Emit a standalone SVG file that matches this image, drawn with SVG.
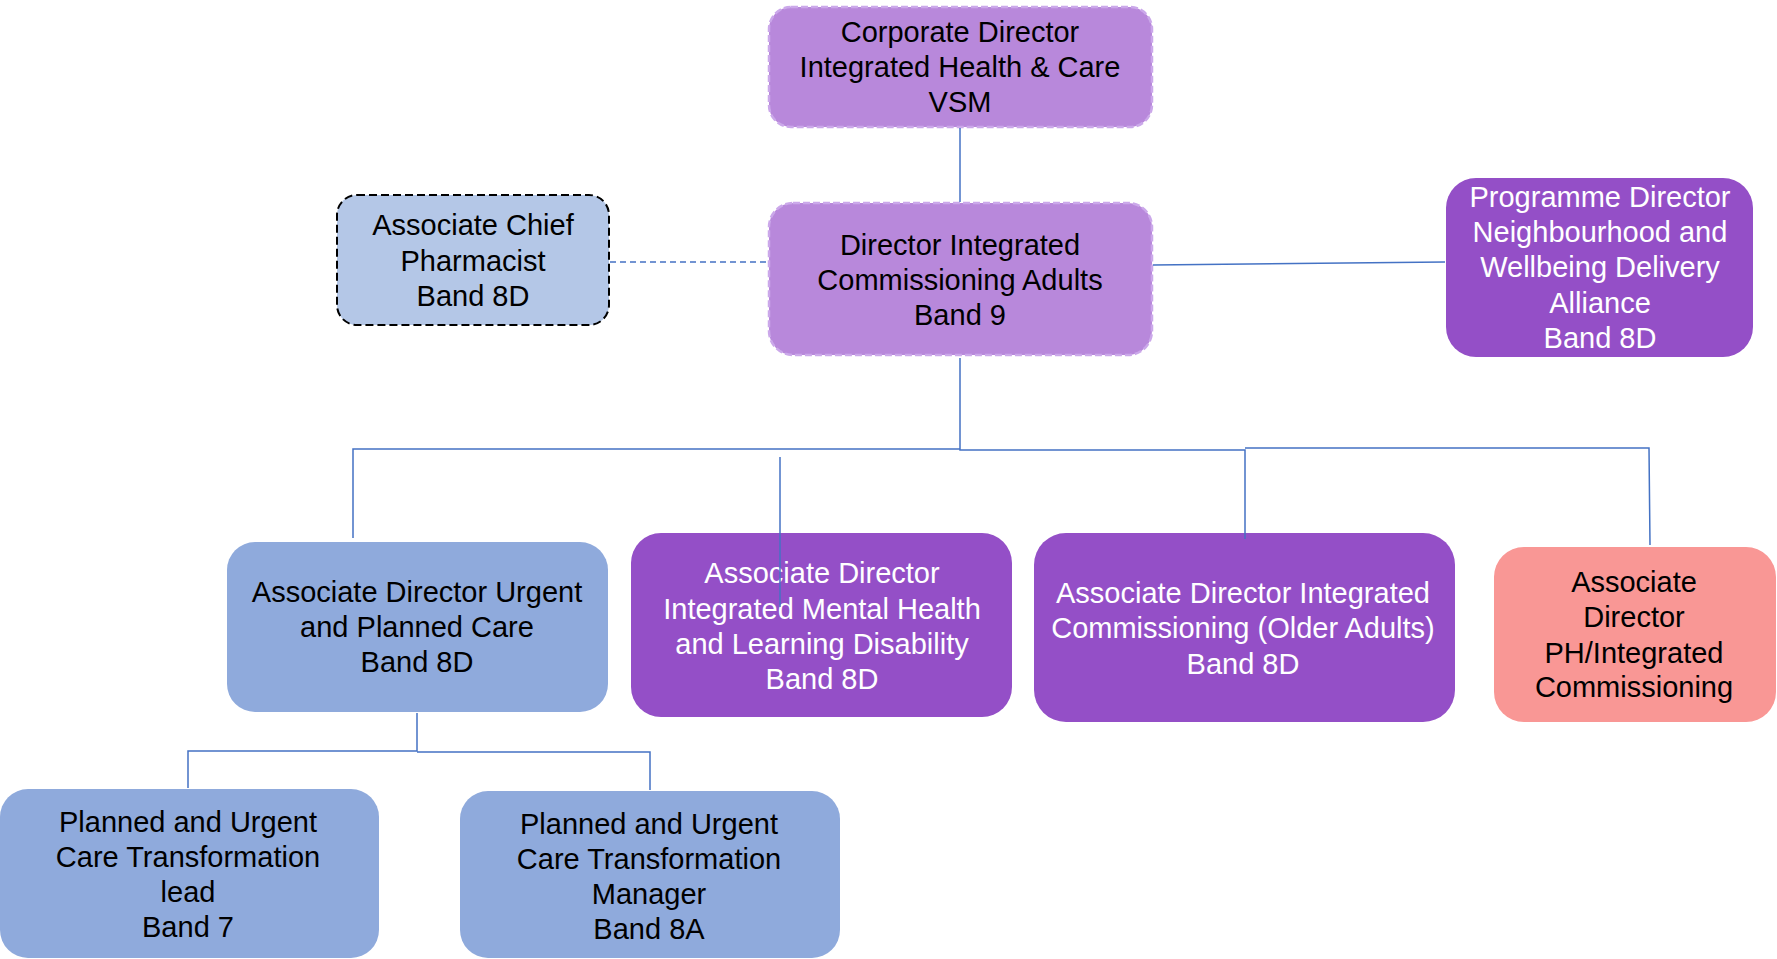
<svg xmlns="http://www.w3.org/2000/svg" width="1777" height="959" viewBox="0 0 1777 959">
<style>
text{font-family:"Liberation Sans",Arial,sans-serif;font-size:29px;text-anchor:middle}
.dk{fill:#000}
.wt{fill:#fff}
.lp{fill:#B888DB;stroke:#CBA8EA;stroke-width:2.5;stroke-dasharray:7 3}
.ph{fill:#B4C7E7;stroke:#000;stroke-width:2;stroke-dasharray:8 4}
.dp{fill:#944FC7}
.bl{fill:#8FAADC}
.pk{fill:#F99795}
.ln{fill:none;stroke:#4472C4;stroke-width:1.5}
.dl{fill:none;stroke:#4472C4;stroke-width:1.5;stroke-dasharray:6 4}
</style>
<rect width="1777" height="959" fill="#fff"/>
<g id="n-corporate">
<rect class="lp" x="769" y="7" width="383" height="120" rx="22"/>
<text class="dk" x="960" y="42">Corporate Director</text>
<text class="dk" x="960" y="77">Integrated Health &amp; Care</text>
<text class="dk" x="960" y="112">VSM</text>
</g>
<g id="n-director">
<rect class="lp" x="769" y="203" width="383" height="152" rx="24"/>
<text class="dk" x="960" y="255">Director Integrated</text>
<text class="dk" x="960" y="290">Commissioning Adults</text>
<text class="dk" x="960" y="325">Band 9</text>
</g>
<g id="n-pharmacist">
<rect class="ph" x="337" y="195" width="272" height="130" rx="20"/>
<text class="dk" x="473" y="235">Associate Chief</text>
<text class="dk" x="473" y="271">Pharmacist</text>
<text class="dk" x="473" y="306">Band 8D</text>
</g>
<g id="n-programme">
<rect class="dp" x="1446" y="178" width="307" height="179" rx="30"/>
<text class="wt" x="1600" y="207">Programme Director</text>
<text class="wt" x="1600" y="242">Neighbourhood and</text>
<text class="wt" x="1600" y="277">Wellbeing Delivery</text>
<text class="wt" x="1600" y="313">Alliance</text>
<text class="wt" x="1600" y="348">Band 8D</text>
</g>
<g id="n-urgent">
<rect class="bl" x="227" y="542" width="381" height="170" rx="28"/>
<text class="dk" x="417" y="602">Associate Director Urgent</text>
<text class="dk" x="417" y="637">and Planned Care</text>
<text class="dk" x="417" y="672">Band 8D</text>
</g>
<g id="n-mental">
<rect class="dp" x="631" y="533" width="381" height="184" rx="30"/>
<text class="wt" x="822" y="583">Associate Director</text>
<text class="wt" x="822" y="619">Integrated Mental Health</text>
<text class="wt" x="822" y="654">and Learning Disability</text>
<text class="wt" x="822" y="689">Band 8D</text>
</g>
<g id="n-older">
<rect class="dp" x="1034" y="533" width="421" height="189" rx="32"/>
<text class="wt" x="1243" y="603">Associate Director Integrated</text>
<text class="wt" x="1243" y="638">Commissioning (Older Adults)</text>
<text class="wt" x="1243" y="674">Band 8D</text>
</g>
<g id="n-ph">
<rect class="pk" x="1494" y="547" width="282" height="175" rx="30"/>
<text class="dk" x="1634" y="592">Associate</text>
<text class="dk" x="1634" y="627">Director</text>
<text class="dk" x="1634" y="663">PH/Integrated</text>
<text class="dk" x="1634" y="697">Commissioning</text>
</g>
<g id="n-lead">
<rect class="bl" x="0" y="789" width="379" height="169" rx="28"/>
<text class="dk" x="188" y="832">Planned and Urgent</text>
<text class="dk" x="188" y="867">Care Transformation</text>
<text class="dk" x="188" y="902">lead</text>
<text class="dk" x="188" y="937">Band 7</text>
</g>
<g id="n-manager">
<rect class="bl" x="460" y="791" width="380" height="167" rx="28"/>
<text class="dk" x="649" y="834">Planned and Urgent</text>
<text class="dk" x="649" y="869">Care Transformation</text>
<text class="dk" x="649" y="904">Manager</text>
<text class="dk" x="649" y="939">Band 8A</text>
</g>
<g id="connectors">
<line class="ln" x1="960" y1="128" x2="960" y2="202"/>
<line class="dl" x1="610" y1="262" x2="768" y2="262"/>
<line class="ln" x1="1153" y1="265" x2="1445" y2="262"/>
<polyline class="ln" points="960,358 960,450 1245,450 1245,539"/>
<polyline class="ln" points="960,449 353,449 353,538"/>
<line class="ln" x1="780" y1="457" x2="780" y2="607"/>
<polyline class="ln" points="1245,448 1649,448 1650,545"/>
<polyline class="ln" points="417,713 417,751 188,751 188,788"/>
<polyline class="ln" points="417,752 650,752 650,790"/>
</g>
</svg>
